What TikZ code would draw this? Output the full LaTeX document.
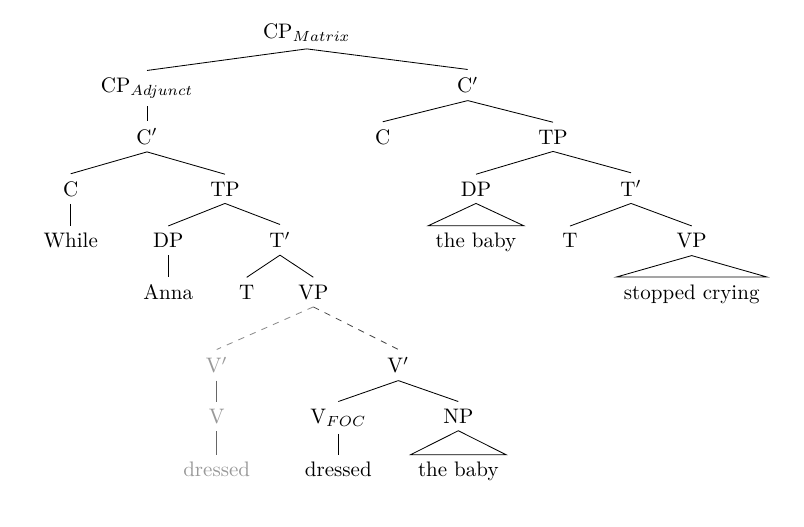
\documentclass[tikz,border=0pt]{standalone}
\usepackage{tikz}
\usetikzlibrary{
  chains,
  positioning,
  scopes
}

\begin{document}
\begin{tikzpicture}[
      x=0.476pt, y=-0.476pt,
      every node/.style={anchor=base},
      ghost/.style={text=black!40},
      branch/.style={
         to path={(\tikztostart.south) -- (\tikztotarget.north)}
      },
      roof/.style={
         to path={(\tikztostart.south) -- (\tikztotarget.north west)
                  -- (\tikztotarget.north east) -- cycle}
      },
      ghost line/.style={draw=black!60},
      ghost dash/.style={draw=black!45,dashed},
      move dash/.style={draw=black!70,dashed}
    ]
    \useasboundingbox (0,0) rectangle (804,526);
    % rows of the tree
    \node (n11) at (306.7,38.3) {CP$_{Matrix}$};
    \node (n21) at (147,92.7) {CP$_{Adjunct}$};
    \node (n22) at (467.7,92.7) {C$'$};
    \node (n31) at (147,144) {C$'$};
    \node (n32) at (382.7,144) {C};
    \node (n33) at (553,144) {TP};
    \node (n41) at (70.7,196) {C};
    \node (n42) at (225,196) {TP};
    \node (n43) at (476,196) {DP};
    \node (n44) at (631,196) {T$'$};
    \node (n51) at (70.7,247.7) {While};
    \node (n52) at (168.3,247.7) {DP};
    \node (n53) at (280,247.7) {T$'$};
    \node (n54) at (476,247.7) {the baby};
    \node (n55) at (570,247.7) {T};
    \node (n56) at (691.7,247.7) {VP};
    \node (n61) at (168.3,299) {Anna};
    \node (n62) at (246.7,299) {T};
    \node (n63) at (313.3,299) {VP};
    \node (n64) at (691.7,299) {stopped crying};
    \node (n71) [ghost] at (216.7,372.7) {V$'$};
    \node (n72) at (398.3,372.7) {V$'$};
    \node (n81) [ghost] at (216.7,423.3) {V};
    \node (n82) at (338.3,423.3) {V$_{FOC}$};
    \node (n83) at (458.3,423.3) {NP};
    \node (n91) [ghost] at (216.7,476.7) {dressed};
    \node (n92) at (338.3,476.7) {dressed};
    \node (n93) at (458.3,476.7) {the baby};
  { [start chain]
       \chainin (n11);
       \chainin (n21)    [join=by branch];
       \chainin (n31)    [join=by branch];
       \chainin (n41)    [join=by branch];
       \chainin (n51)    [join=by branch];
  }
  { [start chain]
       \chainin (n31);
       \chainin (n42)    [join=by branch];
       \chainin (n52)    [join=by branch];
       \chainin (n61)    [join=by branch];
  }
  { [start chain]
       \chainin (n42);
       \chainin (n53)    [join=by branch];
       \chainin (n62)    [join=by branch];
  }
  { [start chain]
       \chainin (n53);
       \chainin (n63)    [join=by branch];
       \chainin (n71)    [join=by {branch,ghost dash}];
       \chainin (n81)    [join=by {branch,ghost line}];
       \chainin (n91)    [join=by {branch,ghost line}];
  }
  { [start chain]
       \chainin (n63);
       \chainin (n72)    [join=by {branch,move dash}];
       \chainin (n82)    [join=by branch];
       \chainin (n92)    [join=by branch];
  }
  { [start chain]
       \chainin (n72);
       \chainin (n83)    [join=by branch];
       \chainin (n93)    [join=by roof];
  }
  { [start chain]
       \chainin (n11);
       \chainin (n22)    [join=by branch];
       \chainin (n32)    [join=by branch];
  }
  { [start chain]
       \chainin (n22);
       \chainin (n33)    [join=by branch];
       \chainin (n43)    [join=by branch];
       \chainin (n54)    [join=by roof];
  }
  { [start chain]
       \chainin (n33);
       \chainin (n44)    [join=by branch];
       \chainin (n55)    [join=by branch];
  }
  { [start chain]
       \chainin (n44);
       \chainin (n56)    [join=by branch];
       \chainin (n64)    [join=by roof];
  }
\end{tikzpicture}
\end{document}
